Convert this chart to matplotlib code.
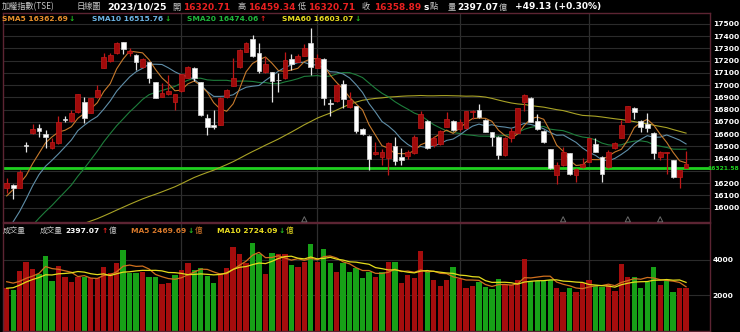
import numpy as np
import matplotlib
matplotlib.use('Agg')
import matplotlib.pyplot as plt

# ---------------- data ----------------
opens = [16158, 16185, 16163, 16508, 16606, 16647, 16601, 16484, 16525, 16720,
         16707, 16778, 16865, 16775, 16900, 17136, 17196, 17259, 17348, 17265,
         17245, 17150, 17185, 17022, 16905, 16924, 16865, 16951, 17060, 17136,
         17022, 16734, 16674, 16674, 16905, 16995, 17150, 17272, 17375, 17259,
         17104, 17104, 17045, 17055, 17212, 17191, 17240, 17340, 17142, 17212,
         16854, 16870, 17006, 16824, 16829, 16642, 16585, 16435, 16415, 16402,
         16506, 16413, 16420, 16446, 16647, 16707, 16511, 16517, 16661, 16707,
         16640, 16647, 16780, 16797, 16715, 16615, 16579, 16430, 16566, 16606,
         16859, 16897, 16707, 16625, 16479, 16267, 16348, 16443, 16267, 16335,
         16375, 16517, 16416, 16335, 16484, 16571, 16701, 16816, 16710, 16680,
         16612, 16416, 16443, 16389, 16253, 16320.71]
highs = [16239, 16190, 16307, 16533, 16680, 16680, 16634, 16566, 16750, 16750,
         16797, 16930, 16905, 16897, 17000, 17259, 17259, 17348, 17354, 17300,
         17250, 17218, 17190, 17027, 17014, 17082, 16930, 17090, 17158, 17150,
         17027, 16761, 16797, 16905, 16968, 17223, 17294, 17354, 17408, 17340,
         17231, 17109, 17096, 17272, 17250, 17250, 17332, 17468, 17250, 17218,
         16886, 17005, 17041, 16946, 16830, 16647, 16590, 16538, 16480, 16538,
         16579, 16484, 16470, 16590, 16790, 16712, 16587, 16630, 16783, 16715,
         16720, 16790, 16795, 16843, 16720, 16618, 16585, 16579, 16647, 16816,
         16924, 16900, 16761, 16633, 16480, 16370, 16498, 16445, 16320, 16408,
         16570, 16571, 16421, 16470, 16538, 16715, 16830, 16818, 16715, 16770,
         16615, 16462, 16452, 16390, 16310, 16459.34]
lows = [16117, 16071, 16158, 16457, 16598, 16579, 16490, 16479, 16520, 16702,
        16702, 16775, 16688, 16770, 16897, 17136, 17190, 17256, 17253, 17240,
        17123, 17136, 17014, 16892, 16900, 16919, 16797, 16946, 17055, 17033,
        16750, 16593, 16642, 16674, 16897, 16995, 17136, 17267, 17231, 17096,
        17096, 16865, 16946, 17050, 17123, 17185, 17235, 17082, 17136, 16837,
        16750, 16865, 16816, 16816, 16606, 16593, 16307, 16430, 16348, 16267,
        16348, 16348, 16400, 16440, 16647, 16480, 16498, 16511, 16661, 16625,
        16625, 16642, 16723, 16734, 16615, 16506, 16397, 16424, 16538, 16606,
        16788, 16696, 16634, 16525, 16316, 16190, 16343, 16270, 16212, 16326,
        16370, 16450, 16207, 16326, 16479, 16565, 16696, 16723, 16615, 16620,
        16397, 16389, 16272, 16245, 16163, 16320.71]
closes = [16199, 16158, 16294, 16504, 16639, 16625, 16579, 16538, 16702, 16712,
          16770, 16924, 16734, 16892, 16960, 17226, 17245, 17340, 17294, 17280,
          17191, 17210, 17060, 16895, 16938, 16951, 16924, 17087, 17150, 17055,
          16756, 16661, 16658, 16897, 16960, 17060, 17286, 17340, 17235, 17115,
          17169, 17033, 17038, 17204, 17169, 17240, 17305, 17150, 17218, 16892,
          16843, 17000, 16886, 16878, 16625, 16598, 16397, 16457, 16450, 16525,
          16381, 16390, 16455, 16575, 16768, 16484, 16566, 16625, 16720, 16633,
          16700, 16788, 16792, 16742, 16620, 16579, 16430, 16571, 16625, 16810,
          16919, 16701, 16642, 16533, 16326, 16348, 16457, 16272, 16316, 16354,
          16566, 16451, 16272, 16457, 16525, 16674, 16829, 16783, 16661, 16653,
          16443, 16457, 16451, 16253, 16307, 16358.89]
volumes = [2395, 2300, 3396, 3868, 3471, 3188, 4227, 2810, 3660, 3056,
           2772, 3018, 3056, 2961, 2961, 3622, 3245, 3849, 4567, 3282,
           3245, 3339, 3018, 3018, 2640, 2716, 3150, 3434, 3849, 3434,
           3528, 3094, 2716, 3245, 3528, 4718, 4321, 3849, 4945, 4340,
           3207, 4378, 4340, 4321, 3717, 3622, 3906, 4907, 3906, 4605,
           3811, 3339, 3811, 3339, 3528, 2999, 3339, 3018, 3301, 3868,
           3868, 2678, 3150, 2961, 4510, 3339, 2867, 2546, 2867, 3622,
           2905, 2395, 2527, 2772, 2451, 2357, 2905, 2583, 2583, 2867,
           4057, 2829, 2829, 2829, 2867, 2395, 2206, 2395, 2206, 2678,
           2867, 2527, 2489, 2583, 2262, 3773, 3056, 3056, 2395, 2772,
           3622, 2583, 2829, 2206, 2395, 2397.07]
# closes / volumes before the first visible day (only feed the moving averages)
prior_closes = [15500, 15550, 15620, 15580, 15510, 15450, 15420, 15480, 15530, 15600,
                15640, 15700, 15760, 15820, 15870, 15850, 15880, 15900, 15860, 15840,
                15900, 15870, 15800, 15760, 15720, 15680, 15600, 15580, 15540, 15500,
                15480, 15520, 15560, 15600, 15620, 15650, 15640, 15610, 15590, 15570,
                15550, 15520, 15500, 15480, 15460, 15500, 15540, 15580, 15620, 15660,
                15480, 15450, 15500, 15560, 15700, 15900, 16050, 16180, 16150]
prior_volumes = [2000, 1950, 2100, 2050, 2050, 2700, 2900, 3000, 2855]

price_ticks = [16000, 16100, 16200, 16300, 16400, 16500, 16600, 16700,
               16800, 16900, 17000, 17100, 17200, 17300, 17400, 17500]
vol_ticks = [2000, 4000]
month_start_idx = [27, 48, 70, 90]
marker_idx = [46, 86, 96, 101]
ref_level = 16321.5
ref_label = "16321.58"

# ---------------- helpers ----------------
W, H = 740, 332
CJK = ['Noto Sans CJK TC', 'DejaVu Sans']

def sma(full, n, count):
    full = np.asarray(full, dtype=float)
    out = np.full(count, np.nan)
    off = len(full) - count
    for i in range(count):
        j = off + i
        if j - n + 1 >= 0:
            out[i] = full[j - n + 1:j + 1].mean()
    return out

N = len(closes)
x = np.arange(N)
o = np.array(opens); h = np.array(highs); l = np.array(lows); c = np.array(closes)
v = np.array(volumes)
full_c = list(prior_closes) + list(closes)
full_v = list(prior_volumes) + list(volumes)
ma5 = sma(full_c, 5, N); ma10 = sma(full_c, 10, N)
ma20 = sma(full_c, 20, N); ma60 = sma(full_c, 60, N)
vma5 = sma(full_v, 5, N); vma10 = sma(full_v, 10, N)
prev_c = np.array([prior_closes[-1]] + list(closes[:-1]))
up_day = c >= prev_c

fig = plt.figure(figsize=(W / 100, H / 100), dpi=100, facecolor='black')
renderer = fig.canvas.get_renderer()

def fbox(x0, y0, x1, y1):
    return [x0 / W, 1 - y1 / H, (x1 - x0) / W, (y1 - y0) / H]

border = '#5c2433'
ax = fig.add_axes(fbox(3, 13, 710, 222))
axv = fig.add_axes(fbox(3, 223, 710, 331))
for a in (ax, axv):
    a.set_facecolor('black')
    for s in a.spines.values():
        s.set_color(border)
        s.set_linewidth(1.0)
    a.set_xlim(-0.57, 108.7)
    a.set_xticks([])
    a.yaxis.tick_right()
    a.tick_params(axis='y', length=0, pad=2, labelcolor='white', labelsize=5.4)
    for m in month_start_idx:
        a.axvline(m, color='#2e2e2e', lw=0.9, zorder=0)

# price panel (the 16300 tick label sits under the reference-line tag)
ax.set_ylim(15883, 17588)
ax.set_yticks(price_ticks)
ax.set_yticklabels(['' if abs(t - ref_level) < 40 else str(t) for t in price_ticks],
                   fontweight='bold')
ax.grid(axis='y', color='#2b2b2b', lw=0.8, zorder=0)
ax.set_axisbelow(True)

ax.axhline(ref_level, color='#1fd01f', lw=2.0, zorder=1)

for ma, col in [(ma60, '#a9a326'), (ma20, '#1e7e3c'),
                (ma10, '#5f8ea8'), (ma5, '#c77a2c')]:
    ax.plot(x, ma, color=col, lw=0.8, zorder=2)

red_face, red_edge = '#a00a0a', '#c41a1a'
wh_face, wh_edge = '#ffffff', '#d8d8d8'
is_up = c >= o
wick_cols = np.where(is_up, '#c01818', '#e6e6e6')
ax.vlines(x, l, h, colors=wick_cols, lw=0.9, zorder=3)
body_lo = np.minimum(o, c)
body_h = np.maximum(np.abs(c - o), 6)
ax.bar(x[is_up], body_h[is_up], bottom=body_lo[is_up], width=0.74,
       color=red_face, edgecolor=red_edge, linewidth=0.5, zorder=4)
ax.bar(x[~is_up], body_h[~is_up], bottom=body_lo[~is_up], width=0.74,
       color=wh_face, edgecolor=wh_edge, linewidth=0.5, zorder=4)

ax.scatter(marker_idx, [15905] * len(marker_idx), marker='^', s=14,
           facecolors='none', edgecolors='#6a6a6a', linewidths=0.7, zorder=5,
           clip_on=False)

# reference-line tag, right-aligned inside the figure
ref_y_fig = ax.transData.transform((0, ref_level))[1] / H
fig.text(738.5 / W, ref_y_fig, ref_label, color='#1fd01f', fontsize=4.3,
         fontweight='bold', va='center', ha='right', zorder=10)

# volume panel
axv.set_ylim(-23, 6096)
axv.set_yticks(vol_ticks)
axv.set_yticklabels([str(t) for t in vol_ticks], fontweight='bold')
axv.grid(axis='y', color='#2b2b2b', lw=0.8, zorder=0)
axv.set_axisbelow(True)
vcols = np.where(up_day, '#a50d0d', '#17a017')
axv.bar(x, v, width=0.82, color=vcols, zorder=2)
axv.plot(x, vma5, color='#d0701e', lw=0.9, zorder=3)
axv.plot(x, vma10, color='#e4dc1c', lw=0.9, zorder=3)

# ---------------- header texts ----------------
def T(px, py, s, col, size=6.5, bold=True, cjk=False):
    return fig.text(px / W, 1 - py / H, s, color=col, fontsize=size,
                    fontweight='bold' if bold else 'normal',
                    family=CJK if cjk else 'DejaVu Sans', va='center', ha='left')

def chain(px, py, pieces):
    """pieces: (text, colour, size, bold, cjk, gap_px_before)"""
    cur = px
    for s, col, size, bold, cjk, gap in pieces:
        cur += gap
        t = T(cur, py, s, col, size, bold, cjk)
        bb = t.get_window_extent(renderer)
        cur += bb.width

gray = '#c8c8c8'
red = '#e82020'
cs = 5.9
T(2, 7, '加權指數(TSE)', gray, cs, False, True)
T(76, 7, '日線圖', gray, cs, False, True)
T(107, 7, '2023/10/25', 'white', 6.8)
T(172, 7, '開', gray, cs, False, True)
T(183, 7, '16320.71', red)
T(238, 7, '高', gray, cs, False, True)
T(248, 7, '16459.34', red)
T(298, 7, '低', gray, cs, False, True)
T(308, 7, '16320.71', red)
T(362, 7, '收', gray, cs, False, True)
T(374, 7, '16358.89', red)
T(424, 7, 's', 'white')
T(430, 7, '點', gray, cs, False, True)
T(448, 7, '量', gray, cs, False, True)
T(457, 7, '2397.07', 'white')
T(499, 7, '億', gray, cs, False, True)
T(515, 7, '+49.13 (+0.30%)', 'white')

ls = 5.4
up_c, dn_c = '#e82020', '#22c022'
chain(2, 19, [('SMA5 16362.69', '#e8902c', ls, True, False, 0),
              ('↓', dn_c, ls, True, False, 1)])
chain(92, 19, [('SMA10 16515.76', '#6cb4e4', ls, True, False, 0),
               ('↓', dn_c, ls, True, False, 1)])
chain(187, 19, [('SMA20 16474.06', '#1fb83c', ls, True, False, 0),
                ('↑', up_c, ls, True, False, 1)])
chain(282, 19, [('SMA60 16603.07', '#e8dc20', ls, True, False, 0),
                ('↓', dn_c, ls, True, False, 1)])

T(3, 231, '成交量', gray, 5.5, False, True)
chain(40, 231, [('成交量', gray, 5.5, False, True, 0),
                ('2397.07', 'white', ls, True, False, 3),
                ('↑', up_c, ls, True, False, 1),
                ('億', gray, 5.5, False, True, 1)])
chain(131, 231, [('MA5 2469.69', '#d8782a', ls, True, False, 0),
                 ('↓', dn_c, ls, True, False, 1),
                 ('億', '#d8782a', 5.5, False, True, 1)])
chain(217, 231, [('MA10 2724.09', '#e8dc20', ls, True, False, 0),
                 ('↓', dn_c, ls, True, False, 1),
                 ('億', '#e8dc20', 5.5, False, True, 1)])

fig.savefig('out.png', dpi=100, facecolor='black')
